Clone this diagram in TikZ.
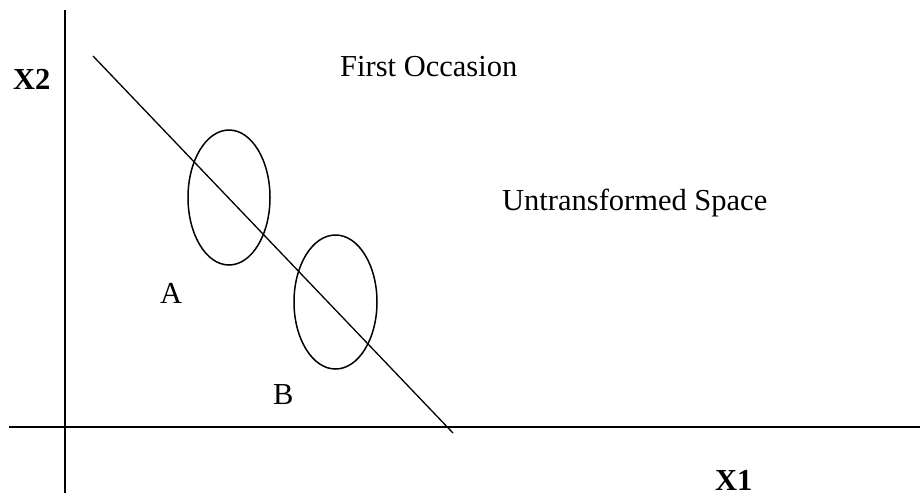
\documentclass[tikz,border=0pt]{standalone}
\usepackage{fontspec}
\setmainfont{Liberation Serif}
\begin{document}
\begin{tikzpicture}[x=1pt,y=-1pt,
  lbl/.style={anchor=base west,inner sep=0pt,font=\fontsize{30.5}{36}\selectfont},
  axlbl/.style={lbl,text depth=0pt,font=\fontsize{30.5}{36}\selectfont\bfseries},
  axis/.style={line width=2pt},
  trend/.style={line width=1.3pt},
  blob/.style={line width=1.5pt}]
\useasboundingbox (0,0) rectangle (920,496);
% axes
\coordinate (ytop) at (65,10);
\coordinate (ybot) at (65,493);
\coordinate (xl) at (9,427);
\coordinate (xr) at (920,427);
\draw[axis] (ytop) -- (ybot);
\draw[axis] (xl) -- (xr);
% diagonal line
\coordinate (ds) at (93,56);
\coordinate (de) at (453,433);
\draw[trend] (ds) -- (de);
% ellipses
\draw[blob] (229,197.5) ellipse [x radius=41, y radius=67.5];
\draw[blob] (335.5,302) ellipse [x radius=41.5, y radius=67];
% labels
\node[axlbl] (x2) at (13,89) {X2};
\node[axlbl] (x1) at (715,490) {X1};
\node[lbl] (first) at (340,76) {First Occasion};
\node[lbl] (untr) at (502,210) {Untransformed Space};
\node[lbl] (a) at (160,303) {A};
\node[lbl] (b) at (273,404) {B};
\end{tikzpicture}
\end{document}
